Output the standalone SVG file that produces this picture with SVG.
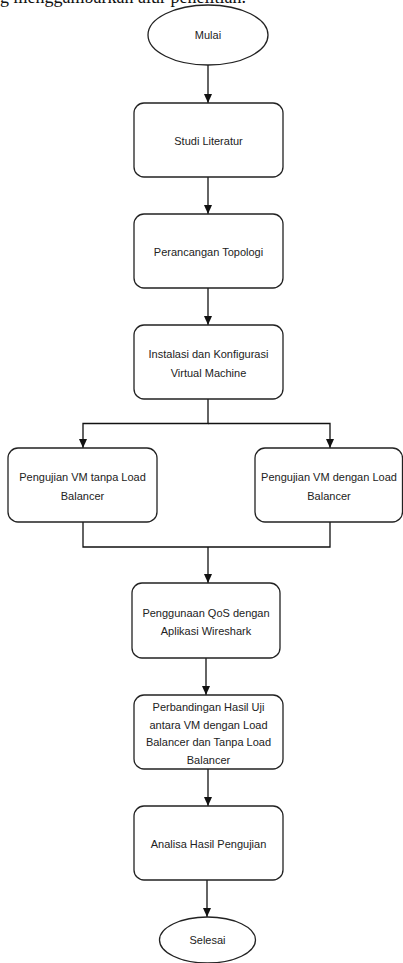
<svg xmlns="http://www.w3.org/2000/svg" width="403" height="963" viewBox="0 0 403 963">
<style>
.n{fill:#fff;stroke:#222;stroke-width:1.3}
.t{font-family:"Liberation Sans",Arial,sans-serif;font-size:11px;fill:#222;text-anchor:middle}
.c{fill:none;stroke:#111;stroke-width:1.3}
.top{font-family:"Liberation Serif","Times New Roman",serif;font-size:18px;fill:#111}
</style>
<defs>
<marker id="ah" markerWidth="10" markerHeight="10" refX="9" refY="5" orient="auto" markerUnits="userSpaceOnUse">
<path d="M0,1 L9,5 L0,9 Z" fill="#111"/>
</marker>
</defs>
<rect width="403" height="963" fill="#fff"/>
<text class="top" x="0" y="3">g menggambarkan alur penelitian.</text>
<g id="connectors">
<path class="c" d="M208,65 V103" marker-end="url(#ah)"/>
<path class="c" d="M208,177 V214" marker-end="url(#ah)"/>
<path class="c" d="M208,288 V325" marker-end="url(#ah)"/>
<path class="c" d="M208,399 V423.5 H83 V448" marker-end="url(#ah)"/>
<path class="c" d="M208,423.5 H330 V448" marker-end="url(#ah)"/>
<path class="c" d="M83,522 V547 H330 V522"/>
<path class="c" d="M208,547 V583" marker-end="url(#ah)"/>
<path class="c" d="M206,658 V695" marker-end="url(#ah)"/>
<path class="c" d="M208,769 V806" marker-end="url(#ah)"/>
<path class="c" d="M207,880 V917" marker-end="url(#ah)"/>
</g>
<g id="mulai"><ellipse class="n" cx="208" cy="35" rx="60" ry="30"/><text class="t" x="208" y="39">Mulai</text></g>
<g id="studi"><rect class="n" x="134" y="103" width="149" height="74" rx="10"/><text class="t" x="208.5" y="145">Studi Literatur</text></g>
<g id="perancangan"><rect class="n" x="134" y="214" width="149" height="74" rx="10"/><text class="t" x="208.5" y="256">Perancangan Topologi</text></g>
<g id="instalasi"><rect class="n" x="134" y="325" width="149" height="74" rx="10"/><text class="t" x="208.5" y="358">Instalasi dan Konfigurasi</text><text class="t" x="208.5" y="377">Virtual Machine</text></g>
<g id="tanpa"><rect class="n" x="8" y="448" width="149" height="74" rx="10"/><text class="t" x="82.5" y="481">Pengujian VM tanpa Load</text><text class="t" x="82.5" y="500">Balancer</text></g>
<g id="dengan"><rect class="n" x="255" y="448" width="147.5" height="74" rx="10"/><text class="t" x="329" y="481">Pengujian VM dengan Load</text><text class="t" x="329" y="500">Balancer</text></g>
<g id="qos"><rect class="n" x="132" y="583" width="148" height="75" rx="10"/><text class="t" x="206" y="617">Penggunaan QoS dengan</text><text class="t" x="206" y="635">Aplikasi Wireshark</text></g>
<g id="perbandingan"><rect class="n" x="134" y="695" width="149" height="74" rx="10"/><text class="t" x="208.5" y="711">Perbandingan Hasil Uji</text><text class="t" x="208.5" y="728.5">antara VM dengan Load</text><text class="t" x="208.5" y="746">Balancer dan Tanpa Load</text><text class="t" x="208.5" y="764">Balancer</text></g>
<g id="analisa"><rect class="n" x="134" y="806" width="149" height="74" rx="10"/><text class="t" x="208.5" y="848">Analisa Hasil Pengujian</text></g>
<g id="selesai"><ellipse class="n" cx="207.5" cy="940" rx="48" ry="23"/><text class="t" x="207.5" y="944">Selesai</text></g>
</svg>
